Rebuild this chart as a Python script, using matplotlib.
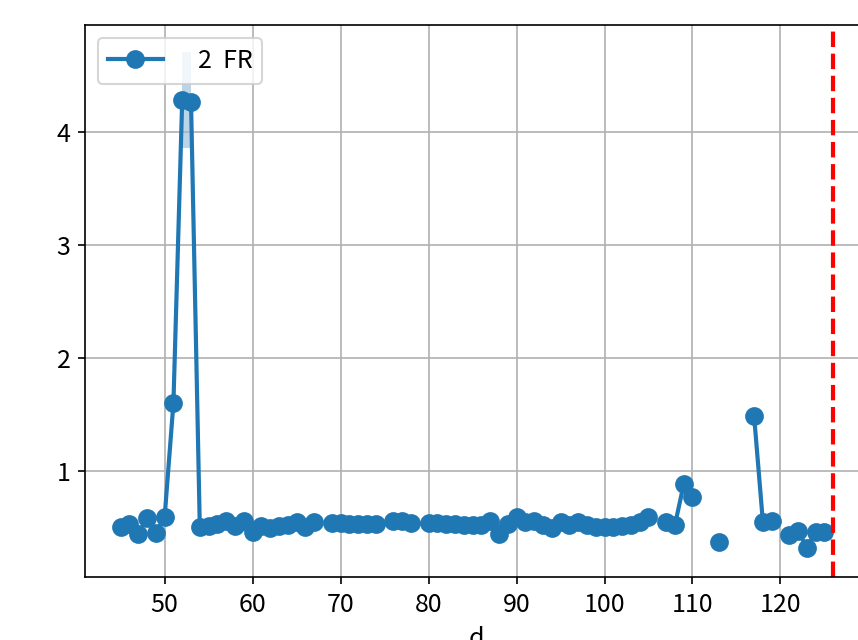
import numpy as np
import matplotlib
matplotlib.use("Agg")
import matplotlib.pyplot as plt

plt.rcParams['font.family'] = ['Noto Sans CJK JP', 'DejaVu Sans']
plt.rcParams['font.size'] = 12

# valores (nan = sem dado)
nan = np.nan
d = np.arange(45, 126)
fr = [0.50, 0.53, 0.44, 0.58, 0.45, 0.59, 1.60, 4.29, 4.27, 0.50,   # 45-54
      0.51, 0.53, 0.56, 0.51, 0.56, 0.46, 0.51, 0.49, 0.51, 0.52,   # 55-64
      0.55, 0.50, 0.55, nan, 0.54, 0.54, 0.53, 0.53, 0.53, 0.53,    # 65-74
      nan, 0.56, 0.56, 0.54, nan, 0.54, 0.54, 0.53, 0.53, 0.52,     # 75-84
      0.52, 0.52, 0.56, 0.44, 0.53, 0.59, 0.55, 0.56, 0.52, 0.49,   # 85-94
      0.55, 0.52, 0.55, 0.52, 0.50, 0.50, 0.50, 0.51, 0.52, 0.55,   # 95-104
      0.59, nan, 0.55, 0.52, 0.88, 0.77, nan, nan, 0.37, nan,       # 105-114
      nan, nan, 1.49, 0.55, 0.56, nan, 0.43, 0.47, 0.32, 0.46,      # 115-124
      0.46]                                                         # 125

# faixa de erro (só onde existe mais de uma medida)
band_d = [52, 53, 118, 119, 120, 121]
band_lo = [3.86, 3.86, 0.54, 0.55, 0.48, 0.42]
band_hi = [4.71, 4.71, 0.56, 0.57, 0.50, 0.44]

limite = 126
rotulo = "2  FR"

fig = plt.figure(figsize=(858 / 150, 640 / 150), dpi=150)
ax = fig.add_axes([85 / 858, 63 / 640, 783 / 858, 552 / 640])

ax.plot(d, fr, marker='o', markersize=8, linewidth=2, label=rotulo)
ax.fill_between(band_d[:2], band_lo[:2], band_hi[:2], alpha=0.3, linewidth=0)
ax.fill_between(band_d[2:], band_lo[2:], band_hi[2:], alpha=0.2, linewidth=0)
ax.axvline(limite, color='red', linestyle='--', linewidth=2)

ax.set_xlim(40.95, 129.95)
ax.set_ylim(0.06, 4.95)
ax.set_xlabel("d")
ax.grid(True)
ax.legend(loc='upper left', handlelength=2.2, handletextpad=1.4)

fig.savefig("out.png", dpi=150)
